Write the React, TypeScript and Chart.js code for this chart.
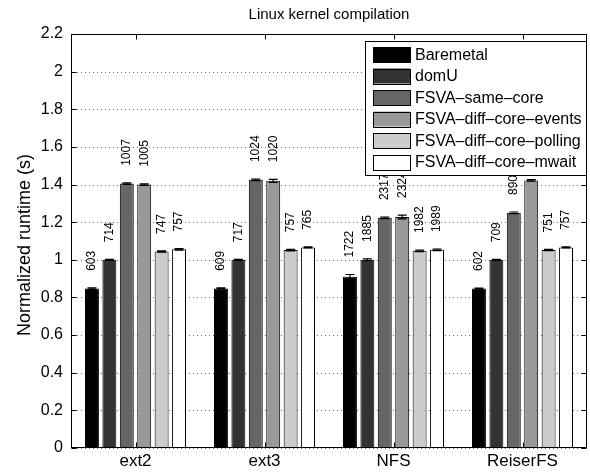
import React, { useEffect, useRef } from 'react';
import { Chart, registerables } from 'chart.js';

Chart.register(...registerables);

const FONT = '"Liberation Sans", Arial, Helvetica, sans-serif';

const categories = ['ext2', 'ext3', 'NFS', 'ReiserFS'];
const seriesNames = [
  'Baremetal',
  'domU',
  'FSVA–same–core',
  'FSVA–diff–core–events',
  'FSVA–diff–core–polling',
  'FSVA–diff–core–mwait',
];
const seriesColors = ['#000000', '#333333', '#666666', '#999999', '#cccccc', '#ffffff'];

const baremetal = [0.847, 0.848, 0.91, 0.847];
const domU = [1.0, 1.0, 1.0, 1.0];
const sameCore = [1.405, 1.425, 1.223, 1.25];
const diffEvents = [1.4, 1.42, 1.228, 1.422];
const diffPolling = [1.044, 1.052, 1.048, 1.052];
const diffMwait = [1.056, 1.066, 1.053, 1.066];

const baremetalErr = [0.004, 0.003, 0.012, 0.003];
const domUErr = [0.003, 0.003, 0.005, 0.003];
const sameCoreErr = [0.004, 0.004, 0.004, 0.004];
const diffEventsErr = [0.004, 0.008, 0.01, 0.004];
const diffPollingErr = [0.003, 0.004, 0.004, 0.003];
const diffMwaitErr = [0.004, 0.003, 0.004, 0.003];

const baremetalLabels = ['603', '609', '1722', '602'];
const domULabels = ['714', '717', '1885', '709'];
const sameCoreLabels = ['1007', '1024', '2317', '890'];
const diffEventsLabels = ['1005', '1020', '2324', '1015'];
const diffPollingLabels = ['747', '757', '1982', '751'];
const diffMwaitLabels = ['757', '765', '1989', '757'];

const yTicks = [0, 0.2, 0.4, 0.6, 0.8, 1, 1.2, 1.4, 1.6, 1.8, 2, 2.2];

const seriesValues = [baremetal, domU, sameCore, diffEvents, diffPolling, diffMwait];
const seriesErrors = [baremetalErr, domUErr, sameCoreErr, diffEventsErr, diffPollingErr, diffMwaitErr];
const seriesLabels = [baremetalLabels, domULabels, sameCoreLabels, diffEventsLabels, diffPollingLabels, diffMwaitLabels];

const decorPlugin = {
  id: 'decor',
  beforeDatasetsDraw(chart: any) {
    const ctx = chart.ctx;
    const a = chart.chartArea;
    const y = chart.scales.y;
    ctx.save();
    ctx.strokeStyle = '#6e6e6e';
    ctx.lineWidth = 1;
    ctx.setLineDash([1, 3]);
    yTicks.forEach((t) => {
      const py = Math.round(y.getPixelForValue(t)) + 0.5;
      ctx.beginPath();
      ctx.moveTo(a.left + 2, py);
      ctx.lineTo(a.right, py);
      ctx.stroke();
    });
    ctx.restore();
  },
  afterDatasetsDraw(chart: any) {
    const ctx = chart.ctx;
    const y = chart.scales.y;
    ctx.save();
    chart.data.datasets.forEach((ds: any, di: number) => {
      const meta = chart.getDatasetMeta(di);
      meta.data.forEach((bar: any, i: number) => {
        const v = seriesValues[di][i];
        const e = seriesErrors[di][i];
        const yTop = y.getPixelForValue(v + e);
        const yBot = y.getPixelForValue(v - e);
        ctx.strokeStyle = '#000';
        ctx.lineWidth = 1.2;
        ctx.beginPath();
        ctx.moveTo(bar.x, yTop);
        ctx.lineTo(bar.x, yBot);
        ctx.moveTo(bar.x - 4.5, yTop);
        ctx.lineTo(bar.x + 4.5, yTop);
        ctx.moveTo(bar.x - 4.5, yBot);
        ctx.lineTo(bar.x + 4.5, yBot);
        ctx.stroke();
        ctx.save();
        ctx.translate(bar.x, yTop - 17);
        ctx.rotate(-Math.PI / 2);
        ctx.fillStyle = '#000';
        ctx.font = `12px ${FONT}`;
        ctx.textAlign = 'left';
        ctx.textBaseline = 'middle';
        ctx.fillText(seriesLabels[di][i], 0, 0);
        ctx.restore();
      });
    });
    ctx.restore();
  },
  afterDraw(chart: any) {
    const ctx = chart.ctx;
    const a = chart.chartArea;
    const y = chart.scales.y;
    const x = chart.scales.x;
    ctx.save();
    // axes box
    const L = Math.round(a.left) + 0.5;
    const R = Math.round(a.right) - 0.5;
    const T = Math.round(a.top) + 0.5;
    const B = Math.round(a.bottom) - 0.5;
    ctx.strokeStyle = '#000';
    ctx.lineWidth = 1;
    ctx.strokeRect(L, T, R - L, B - T);
    // inner ticks
    ctx.beginPath();
    yTicks.forEach((t) => {
      const py = Math.round(y.getPixelForValue(t)) + 0.5;
      ctx.moveTo(L, py);
      ctx.lineTo(L + 5, py);
      ctx.moveTo(R, py);
      ctx.lineTo(R - 5, py);
    });
    categories.forEach((_, i) => {
      const px = Math.round(x.getPixelForValue(i)) + 0.5;
      ctx.moveTo(px, B);
      ctx.lineTo(px, B - 5);
      ctx.moveTo(px, T);
      ctx.lineTo(px, T + 5);
    });
    ctx.stroke();

    // title
    ctx.fillStyle = '#000';
    ctx.font = `15px ${FONT}`;
    ctx.textAlign = 'center';
    ctx.textBaseline = 'middle';
    ctx.fillText('Linux kernel compilation', (a.left + a.right) / 2, 15);

    // y axis title
    ctx.save();
    ctx.translate(25, (a.top + a.bottom) / 2 + 4);
    ctx.rotate(-Math.PI / 2);
    ctx.font = `18px ${FONT}`;
    ctx.textAlign = 'center';
    ctx.textBaseline = 'middle';
    ctx.fillText('Normalized runtime (s)', 0, 0);
    ctx.restore();

    // legend
    const lx = 365.5, ly = 41.5, lw = 221, lh = 134;
    ctx.fillStyle = '#fff';
    ctx.fillRect(lx, ly, lw, lh);
    ctx.strokeStyle = '#000';
    ctx.lineWidth = 1;
    ctx.strokeRect(lx, ly, lw, lh);
    const rowCenters = [54.5, 76, 97.5, 119, 140.5, 162];
    seriesNames.forEach((name, i) => {
      const cy = rowCenters[i];
      ctx.fillStyle = seriesColors[i];
      ctx.fillRect(373, cy - 7.5, 37, 15);
      ctx.strokeStyle = '#000';
      ctx.strokeRect(373.5, Math.round(cy - 7.5) + 0.5, 37, 15);
      ctx.fillStyle = '#000';
      ctx.font = `16px ${FONT}`;
      ctx.textAlign = 'left';
      ctx.textBaseline = 'middle';
      ctx.fillText(name, 415, cy + 1);
    });
    ctx.restore();
  },
};

export default function App() {
  const canvasRef = useRef<HTMLCanvasElement | null>(null);

  useEffect(() => {
    if (!canvasRef.current) return;
    const chart = new Chart(canvasRef.current, {
      type: 'bar',
      data: {
        labels: categories,
        datasets: seriesNames.map((name, i) => ({
          label: name,
          data: seriesValues[i],
          backgroundColor: seriesColors[i],
          borderColor: '#000',
          borderWidth: 1,
          categoryPercentage: 0.81,
          barPercentage: 0.8,
        })),
      },
      options: {
        responsive: false,
        animation: false,
        devicePixelRatio: 1,
        layout: { padding: { top: 34, right: 3, left: 0, bottom: 0 } },
        plugins: {
          legend: { display: false },
          title: { display: false },
          tooltip: { enabled: false },
        },
        scales: {
          x: {
            offset: true,
            grid: { display: false, drawTicks: false },
            border: { display: false },
            ticks: {
              color: '#000',
              font: { family: FONT, size: 17 },
              padding: 3,
              maxRotation: 0,
            },
            afterFit: (s: any) => {
              s.height = 25;
            },
          },
          y: {
            min: 0,
            max: 2.2,
            afterBuildTicks: (s: any) => {
              s.ticks = yTicks.map((v) => ({ value: v }));
            },
            grid: { display: false, drawTicks: false },
            border: { display: false },
            ticks: {
              color: '#000',
              font: { family: FONT, size: 16 },
              padding: 8,
              callback: (v: any) => String(Number(Number(v).toFixed(1))),
            },
            afterFit: (s: any) => {
              s.width = 71;
            },
          },
        },
      },
      plugins: [decorPlugin],
    });
    return () => chart.destroy();
  }, []);

  return (
    <div style={{ position: 'fixed', left: 0, top: 0, width: 590, height: 473, background: '#fff' }}>
      <canvas ref={canvasRef} width={590} height={473} style={{ width: 590, height: 473 }} />
    </div>
  );
}
